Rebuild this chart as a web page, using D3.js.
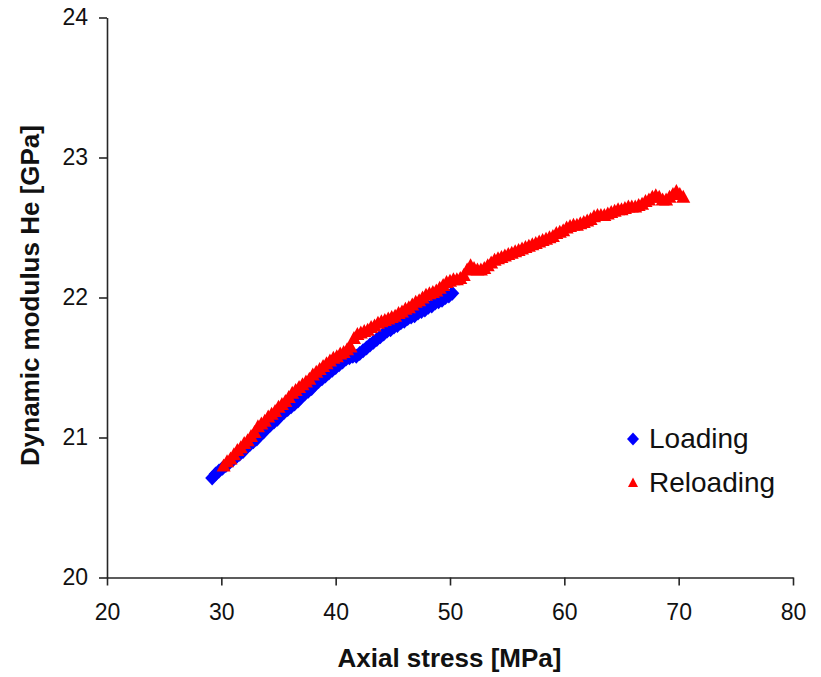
<!DOCTYPE html>
<html>
<head>
<meta charset="utf-8">
<script src="https://cdn.jsdelivr.net/npm/d3@7"></script>
<style>
  html, body { margin: 0; padding: 0; background: #fff; }
  svg { display: block; font-family: "Liberation Sans", Arial, sans-serif; }
</style>
</head>
<body>
<svg id="chart" width="821" height="677"></svg>
<script>
// ---- Data ----
const xTicks = [20, 30, 40, 50, 60, 70, 80];
const yTicks = [20, 21, 22, 23, 24];
const seriesNames = ["Loading", "Reloading"];

const loadingStress = [29.2,29.5,29.8,30.1,30.4,30.7,31.0,31.3,31.6,31.9,32.2,32.5,32.8,33.1,33.4,33.7,34.0,34.3,34.6,34.9,35.2,35.5,35.8,36.1,36.4,36.7,37.0,37.3,37.6,37.9,38.2,38.5,38.8,39.1,39.4,39.7,40.0,40.3,40.6,40.9,41.2,41.5,41.8,42.1,42.4,42.7,43.0,43.3,43.6,43.9,44.2,44.5,44.8,45.1,45.4,45.7,46.0,46.3,46.6,46.9,47.2,47.5,47.8,48.1,48.4,48.7,49.0,49.3,49.6,49.9,50.2];
const loadingModulus = [20.71,20.74,20.76,20.78,20.80,20.82,20.84,20.86,20.88,20.90,20.93,20.95,20.97,20.99,21.02,21.04,21.07,21.09,21.11,21.13,21.16,21.18,21.20,21.22,21.24,21.26,21.29,21.31,21.33,21.35,21.38,21.40,21.42,21.44,21.46,21.48,21.50,21.52,21.54,21.56,21.57,21.58,21.58,21.60,21.62,21.64,21.66,21.68,21.70,21.72,21.74,21.76,21.77,21.79,21.80,21.82,21.83,21.85,21.86,21.87,21.89,21.90,21.91,21.93,21.94,21.96,21.97,21.98,22.00,22.01,22.03];

const reloadingStress = [30.2,30.5,30.8,31.1,31.4,31.7,32.0,32.3,32.6,32.9,33.2,33.5,33.8,34.1,34.4,34.7,35.0,35.3,35.6,35.9,36.2,36.5,36.8,37.1,37.4,37.7,38.0,38.3,38.6,38.9,39.2,39.5,39.8,40.1,40.4,40.7,41.0,41.3,41.6,41.9,42.2,42.5,42.8,43.1,43.4,43.7,44.0,44.3,44.6,44.9,45.2,45.5,45.8,46.1,46.4,46.7,47.0,47.3,47.6,47.9,48.2,48.5,48.8,49.1,49.4,49.7,50.0,50.3,50.6,50.9,51.2,51.5,51.8,52.1,52.4,52.7,53.0,53.3,53.6,53.9,54.2,54.5,54.8,55.1,55.4,55.7,56.0,56.3,56.6,56.9,57.2,57.5,57.8,58.1,58.4,58.7,59.0,59.3,59.6,59.9,60.2,60.5,60.8,61.1,61.4,61.7,62.0,62.3,62.6,62.9,63.2,63.5,63.8,64.1,64.4,64.7,65.0,65.3,65.6,65.9,66.2,66.5,66.8,67.1,67.4,67.7,68.0,68.3,68.6,68.9,69.2,69.5,69.8,70.1,70.4];
const reloadingModulus = [20.80,20.83,20.85,20.88,20.91,20.93,20.96,20.98,21.01,21.04,21.08,21.10,21.12,21.15,21.17,21.19,21.22,21.24,21.26,21.29,21.32,21.34,21.36,21.38,21.40,21.42,21.45,21.47,21.49,21.51,21.53,21.55,21.57,21.58,21.60,21.61,21.63,21.65,21.71,21.74,21.75,21.76,21.77,21.79,21.80,21.82,21.83,21.84,21.85,21.86,21.87,21.89,21.90,21.92,21.93,21.95,21.97,21.98,22.00,22.02,22.03,22.04,22.05,22.07,22.09,22.11,22.12,22.13,22.13,22.14,22.16,22.20,22.23,22.21,22.20,22.20,22.21,22.23,22.25,22.27,22.28,22.29,22.30,22.31,22.32,22.33,22.34,22.35,22.36,22.37,22.38,22.39,22.40,22.41,22.42,22.43,22.44,22.46,22.47,22.48,22.50,22.51,22.52,22.52,22.53,22.54,22.55,22.56,22.58,22.59,22.59,22.59,22.60,22.61,22.62,22.63,22.63,22.64,22.65,22.65,22.65,22.66,22.67,22.69,22.70,22.72,22.73,22.72,22.70,22.70,22.72,22.74,22.76,22.74,22.72];

// ---- Layout ----
const svg = d3.select("#chart");
const plotLeft = 107, plotRight = 793, plotTop = 17.5, plotBottom = 577.5;
const x = d3.scaleLinear().domain([20, 80]).range([plotLeft, plotRight]);
const y = d3.scaleLinear().domain([20, 24]).range([plotBottom, plotTop]);

const axisColor = "#262626";
const textColor = "#111";
const fmt = d3.format("d");

// X axis
const gx = svg.append("g").attr("transform", `translate(0,${plotBottom})`)
  .call(d3.axisBottom(x).tickValues(xTicks).tickFormat(fmt).tickSize(8).tickSizeOuter(0).tickPadding(18));
gx.select(".domain").attr("stroke", axisColor).attr("stroke-width", 1.6);
gx.selectAll(".tick line").attr("stroke", axisColor).attr("stroke-width", 1.6);
gx.selectAll(".tick text").attr("fill", textColor).style("font-size", "23px")
  .style("font-family", "'Liberation Sans', Arial, sans-serif");

// Y axis
const gy = svg.append("g").attr("transform", `translate(${plotLeft},0)`)
  .call(d3.axisLeft(y).tickValues(yTicks).tickFormat(fmt).tickSize(8).tickSizeOuter(0).tickPadding(11));
gy.select(".domain").attr("stroke", axisColor).attr("stroke-width", 1.6);
gy.selectAll(".tick line").attr("stroke", axisColor).attr("stroke-width", 1.6);
gy.selectAll(".tick text").attr("fill", textColor).style("font-size", "23px")
  .style("font-family", "'Liberation Sans', Arial, sans-serif");

// Axis titles
svg.append("text")
  .attr("x", 449.5).attr("y", 667)
  .attr("text-anchor", "middle")
  .style("font-size", "26px").style("font-weight", "bold").attr("fill", textColor)
  .text("Axial stress [MPa]");

svg.append("text")
  .attr("transform", "translate(39,295.5) rotate(-90)")
  .attr("text-anchor", "middle")
  .style("font-size", "26px").style("font-weight", "bold").attr("fill", textColor)
  .text("Dynamic modulus He [GPa]");

// Marker shapes
const diamondPath = "M0,-7.5L7,0L0,7.5L-7,0Z";
const trianglePath = "M0,-7L7,6L-7,6Z";
const legendDiamond = "M0,-6.5L6,0L0,6.5L-6,0Z";
const legendTriangle = "M0,-5L5,4.5L-5,4.5Z";

const loadingData = loadingStress.map((s, i) => ({ s, m: loadingModulus[i] }));
const reloadingData = reloadingStress.map((s, i) => ({ s, m: reloadingModulus[i] }));

svg.append("g").selectAll("path").data(loadingData).join("path")
  .attr("d", diamondPath)
  .attr("transform", d => `translate(${x(d.s)},${y(d.m)})`)
  .attr("fill", "#0000ff");

svg.append("g").selectAll("path").data(reloadingData).join("path")
  .attr("d", trianglePath)
  .attr("transform", d => `translate(${x(d.s)},${y(d.m)})`)
  .attr("fill", "#ff0000");

// Legend
const legend = svg.append("g");
const legendItems = [
  { name: seriesNames[0], path: legendDiamond, color: "#0000ff", cy: 439 },
  { name: seriesNames[1], path: legendTriangle, color: "#ff0000", cy: 482.5 }
];
legendItems.forEach(it => {
  legend.append("path").attr("d", it.path)
    .attr("transform", `translate(633,${it.cy})`).attr("fill", it.color);
  legend.append("text").attr("x", 649).attr("y", it.cy + 9)
    .style("font-size", "28px").attr("fill", textColor).text(it.name);
});
</script>
</body>
</html>
